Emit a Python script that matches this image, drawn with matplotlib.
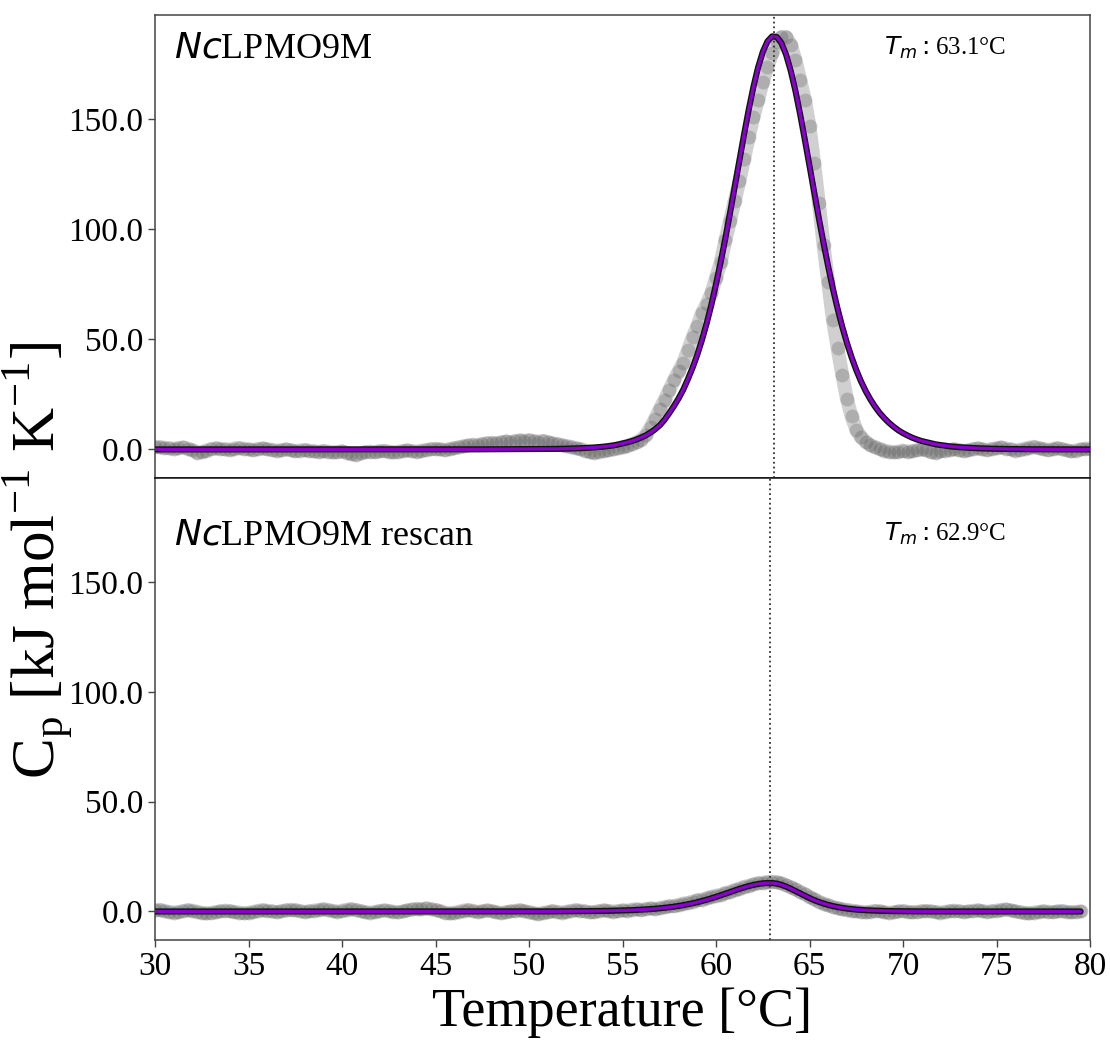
import numpy as np
import matplotlib
matplotlib.use("Agg")
import matplotlib.pyplot as plt

plt.rcParams['font.family'] = ['Liberation Serif', 'DejaVu Serif']
plt.rcParams['mathtext.fontset'] = 'dejavusans'

# ---------------- data ----------------
temp_top = np.arange(30.0, 80.001, 0.25)
cp_top = [
    1.2, 1.0, 0.8, 0.5, 0.3, 0.6, 0.9, 0.4, -0.3, -1.5, -1.2, -0.5, 0.2, 0.5, 0.3, 0.0, -0.2, 0.4, 0.7, 0.3,
    0.0, -0.3, 0.2, 0.5, 0.1, -0.2, -0.6, -0.4, 0.0, -0.3, -0.8, -0.5, -0.2, -0.6, -0.9, -1.1, -0.7, -1.0, -1.4, -1.2,
    -0.9, -1.5, -2.0, -2.4, -1.8, -1.2, -1.0, -1.3, -0.9, -0.6, -1.0, -1.4, -1.1, -0.7, -0.4, -0.8, -1.0, -0.6, -0.2, 0.1,
    0.3, 0.0, -0.3, 0.2, 0.6, 1.0, 1.4, 1.8, 2.2, 2.0, 2.5, 2.8, 3.0, 2.7, 3.2, 3.6, 3.3, 3.8, 4.1, 3.9,
    4.2, 3.8, 3.5, 3.9, 3.4, 2.8, 2.5, 2.0, 1.5, 1.2, 0.6, 0.2, -0.5, -1.2, -1.5, -1.0, -0.6, -0.4, 0.0, 0.5,
    1.0, 1.6, 2.3, 3.2, 4.5, 6.5, 10.0, 14.0, 18.5, 22.5, 27.0, 31.5, 35.5, 39.5, 45.0, 51.0, 56.0, 62.0, 66.0, 71.0,
    78.0, 85.0, 95.0, 104.0, 113.0, 122.0, 132.0, 142.0, 151.0, 159.0, 167.0, 174.0, 180.0, 185.0, 187.5, 187.5, 184.0, 177.0, 168.0, 159.0,
    147.0, 130.0, 112.0, 93.0, 76.0, 59.0, 46.0, 34.0, 23.0, 15.0, 9.0, 5.5, 3.5, 2.0, 1.0, 0.2, -0.5, -1.0, -1.3, -1.0,
    -0.5, -1.0, -0.8, -0.3, 0.0, -0.4, -1.2, -1.5, -0.9, -0.5, -0.2, 0.1, -0.3, -0.7, -0.4, 0.2, 0.5, 0.1, -0.3, 0.2,
    0.6, 0.9, 0.4, 0.0, -0.5, -0.2, 0.3, 0.8, 1.2, 0.7, 0.2, -0.3, 0.1, 0.6, 0.2, -0.4, -0.9, -0.5, 0.0, 0.3,
    0.4,
]
fit_top = [
    0.0, 0.0, 0.0, 0.0, 0.0, 0.0, 0.0, 0.0, 0.0, 0.0, 0.0, 0.0, 0.0, 0.0, 0.0, 0.0, 0.0, 0.0, 0.0, 0.0,
    0.0, 0.0, 0.0, 0.0, 0.0, 0.0, 0.0, 0.0, 0.0, 0.0, 0.0, 0.0, 0.0, 0.0, 0.0, 0.0, 0.0, 0.0, 0.0, 0.0,
    0.0, 0.0, 0.0, 0.0, 0.0, 0.0, 0.0, 0.0, 0.0, 0.0, 0.0, 0.0, 0.0, 0.0, 0.0, 0.0, 0.0, 0.0, 0.0, 0.0,
    0.02, 0.02, 0.02, 0.03, 0.03, 0.03, 0.04, 0.04, 0.04, 0.05, 0.05, 0.06, 0.06, 0.07, 0.07, 0.08, 0.08, 0.09, 0.09, 0.1,
    0.1, 0.11, 0.13, 0.15, 0.18, 0.21, 0.24, 0.28, 0.33, 0.39, 0.46, 0.54, 0.63, 0.75, 0.9, 1.05, 1.25, 1.5, 1.8, 2.2,
    2.7, 3.2, 3.8, 4.5, 5.4, 6.4, 7.7, 9.2, 11.0, 13.5, 16.5, 19.7, 23.2, 27.2, 32.0, 37.2, 43.1, 49.8, 57.3, 65.7,
    75.2, 85.2, 96.0, 107.5, 119.3, 131.3, 143.2, 154.5, 164.8, 173.7, 180.7, 185.5, 187.8, 187.5, 184.7, 179.4, 172.0, 162.9, 152.3, 140.8,
    128.9, 117.0, 105.1, 93.8, 83.1, 73.1, 64.0, 55.8, 48.4, 41.9, 36.1, 31.0, 26.6, 22.8, 19.5, 16.6, 14.2, 12.1, 10.3, 8.7,
    7.4, 6.3, 5.3, 4.5, 3.8, 3.3, 2.8, 2.3, 2.0, 1.7, 1.4, 1.2, 1.0, 0.87, 0.73, 0.62, 0.52, 0.44, 0.38, 0.32,
    0.27, 0.23, 0.2, 0.17, 0.14, 0.12, 0.1, 0.09, 0.07, 0.06, 0.05, 0.04, 0.04, 0.03, 0.03, 0.02, 0.02, 0.02, 0.01, 0.01,
    0.01,
]

temp_bot = np.arange(30.0, 79.501, 0.25)
cp_bot = [
    0.5, 0.8, 0.3, -0.2, -0.5, -0.3, 0.2, 0.6, 0.4, -0.1, -0.6, -0.9, -0.7, -0.3, 0.1, 0.4, 0.2, -0.2, -0.5, -0.8,
    -0.6, -0.2, 0.3, 0.6, 0.4, 0.0, -0.3, 0.1, 0.5, 0.8, 0.6, 0.2, -0.2, 0.1, 0.4, 0.7, 1.0, 0.7, 0.3, -0.1,
    0.3, 0.8, 1.1, 0.7, 0.2, -0.3, -0.6, -0.2, 0.2, 0.5, 0.3, -0.1, -0.4, 0.0, 0.5, 0.9, 1.2, 1.0, 1.4, 1.1,
    0.8, 0.2, -0.5, -0.9, -0.6, -0.1, 0.4, 0.7, 0.3, -0.2, 0.1, 0.5, 0.2, -0.3, -0.7, -0.4, 0.0, 0.3, 0.6, 0.2,
    -0.3, -0.8, -1.1, -0.7, -0.3, 0.2, -0.2, -0.5, -0.1, 0.3, 0.6, 0.4, 0.0, -0.4, -0.2, 0.2, 0.5, 0.3, -0.1, 0.2,
    0.5, 0.3, 0.8, 1.0, 0.7, 1.2, 1.4, 1.1, 1.6, 2.0, 2.4, 2.5, 3.0, 3.6, 3.9, 4.5, 5.1, 5.4, 6.0, 6.7,
    7.2, 7.6, 8.4, 8.9, 9.8, 10.4, 11.2, 11.7, 12.3, 12.9, 13.1, 13.4, 13.6, 13.3, 12.8, 12.0, 11.0, 10.1, 9.0, 7.9,
    6.6, 5.6, 4.5, 3.6, 2.8, 2.1, 1.5, 1.0, 0.8, 0.4, 0.1, -0.2, -0.4, -0.1, 0.3, 0.1, -0.3, -0.6, -0.4, 0.0,
    0.2, -0.1, -0.4, -0.2, 0.1, 0.3, 0.0, -0.3, -0.5, -0.2, 0.2, 0.4, 0.1, -0.2, 0.0, 0.3, 0.5, 0.2, -0.1, 0.1,
    0.4, 0.7, 0.9, 0.5, 0.1, -0.3, -0.6, -0.9, -0.5, -0.2, 0.1, -0.1, -0.3, 0.0, 0.2, -0.1, -0.4, -0.2, 0.0,
]
fit_bot = [
    0.0, 0.0, 0.0, 0.0, 0.0, 0.0, 0.0, 0.0, 0.0, 0.0, 0.0, 0.0, 0.0, 0.0, 0.0, 0.0, 0.0, 0.0, 0.0, 0.0,
    0.0, 0.0, 0.0, 0.0, 0.0, 0.0, 0.0, 0.0, 0.0, 0.0, 0.0, 0.0, 0.0, 0.0, 0.0, 0.0, 0.0, 0.0, 0.0, 0.0,
    0.0, 0.0, 0.0, 0.0, 0.0, 0.0, 0.0, 0.0, 0.0, 0.0, 0.0, 0.0, 0.0, 0.0, 0.0, 0.0, 0.0, 0.0, 0.0, 0.0,
    0.0, 0.0, 0.0, 0.0, 0.0, 0.0, 0.0, 0.0, 0.0, 0.0, 0.0, 0.0, 0.0, 0.0, 0.0, 0.0, 0.0, 0.0, 0.0, 0.0,
    0.02, 0.02, 0.03, 0.03, 0.04, 0.05, 0.06, 0.07, 0.08, 0.09, 0.1, 0.12, 0.14, 0.16, 0.19, 0.22, 0.25, 0.29, 0.34, 0.40,
    0.46, 0.53, 0.61, 0.71, 0.82, 0.95, 1.09, 1.26, 1.45, 1.67, 1.91, 2.19, 2.51, 2.87, 3.27, 3.72, 4.21, 4.77, 5.35, 5.98,
    6.65, 7.35, 8.09, 8.83, 9.58, 10.30, 10.97, 11.58, 12.10, 12.52, 12.82, 12.97, 12.97, 12.70, 12.13, 11.34, 10.37, 9.30, 8.21, 7.12,
    6.10, 5.17, 4.34, 3.61, 2.99, 2.45, 2.01, 1.64, 1.33, 1.08, 0.87, 0.70, 0.57, 0.46, 0.37, 0.30, 0.24, 0.19, 0.15, 0.12,
    0.1, 0.08, 0.06, 0.05, 0.04, 0.03, 0.02, 0.02, 0.01, 0.01, 0.0, 0.0, 0.0, 0.0, 0.0, 0.0, 0.0, 0.0, 0.0, 0.0,
    0.0, 0.0, 0.0, 0.0, 0.0, 0.0, 0.0, 0.0, 0.0, 0.0, 0.0, 0.0, 0.0, 0.0, 0.0, 0.0, 0.0, 0.0, 0.0,
]

tm_values = [63.1, 62.9]
panel_names = [r'$Nc$LPMO9M', r'$Nc$LPMO9M rescan']
x_ticks = [30, 35, 40, 45, 50, 55, 60, 65, 70, 75, 80]
y_ticks = [0.0, 50.0, 100.0, 150.0]

# ---------------- figure ----------------
W, H = 1110, 1043
fig = plt.figure(figsize=(W / 100, H / 100), dpi=100)

def frac_rect(x0, y0, x1, y1):
    return [x0 / W, 1 - y1 / H, (x1 - x0) / W, (y1 - y0) / H]

ax_top = fig.add_axes(frac_rect(155, 15, 1090, 478))
ax_bot = fig.add_axes(frac_rect(155, 478, 1090, 940))

purple = '#8a00cc'
panels = [
    (ax_top, temp_top, cp_top, fit_top),
    (ax_bot, temp_bot, cp_bot, fit_bot),
]
label_pos = [(0.02, 0.927), (0.02, 0.874)]
tm_pos = [(0.78, 0.930), (0.78, 0.880)]

for i, (ax, t, cp, fit) in enumerate(panels):
    ax.plot(t, cp, color='0.3', lw=10, alpha=0.26,
            solid_capstyle='round', solid_joinstyle='round', zorder=2)
    ax.plot(t, cp, 'o', ms=10, color='0.3', alpha=0.26, mec='none', zorder=3)
    ax.plot(t, fit, color='#111111', lw=4.4, solid_capstyle='round', zorder=4)
    ax.plot(t, fit, color=purple, lw=2.4, solid_capstyle='round', zorder=5)
    ax.axvline(tm_values[i], color='#333333', ls=':', lw=1.3, zorder=6)
    ax.set_xlim(30, 80)
    ax.set_ylim(-13.0, 197.5)
    ax.set_yticks(y_ticks)
    ax.set_yticklabels([f'{v:.1f}' for v in y_ticks])
    ax.tick_params(axis='y', labelsize=24, length=5, width=1, color='#444444')
    ax.tick_params(axis='x', labelsize=24, length=5, width=1, color='#444444')
    for sp in ax.spines.values():
        sp.set_color('#444444')
        sp.set_linewidth(1.1)
    ax.text(label_pos[i][0], label_pos[i][1], panel_names[i], transform=ax.transAxes,
            fontsize=26, ha='left', va='center')
    ax.text(tm_pos[i][0], tm_pos[i][1], r'$T_m:$' + f'{tm_values[i]:.1f}°C',
            transform=ax.transAxes, fontsize=18, ha='left', va='center')

ax_top.set_xticks(x_ticks)
ax_top.tick_params(axis='x', length=0, labelbottom=False)
ax_top.spines['bottom'].set_color('#111111')
ax_bot.spines['top'].set_color('#111111')
ax_bot.set_xticks(x_ticks)
ax_bot.set_xticklabels([str(v) for v in x_ticks])
ax_bot.set_xlabel('Temperature [°C]', fontsize=39, labelpad=4)

fig.text(38 / W, 1 - 560 / H,
         r'C$_\mathregular{p}$ [kJ mol$^\mathregular{-1}$ K$^\mathregular{-1}$]',
         rotation=90, fontsize=44, ha='center', va='center')

fig.savefig('out.png', dpi=100)
